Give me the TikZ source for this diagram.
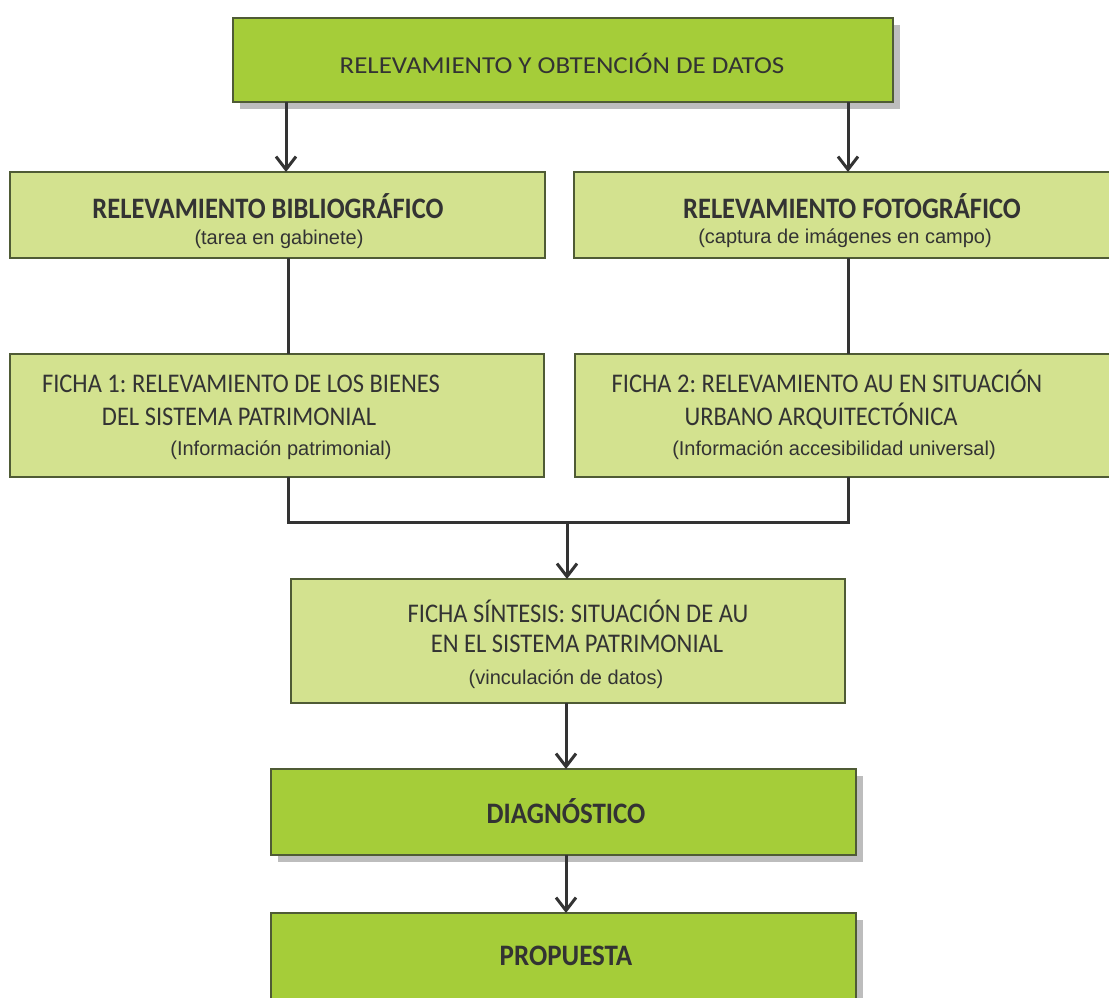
\documentclass[tikz,border=0pt]{standalone}
\usepackage{fontspec}
\setmainfont{Carlito}
\newfontfamily\arialf{Liberation Sans}
\usetikzlibrary{arrows.meta}
\frenchspacing
\definecolor{dkgreen}{HTML}{A5CD39}
\definecolor{ltgreen}{HTML}{D3E28F}
\definecolor{edgec}{HTML}{4F5B35}
\definecolor{linec}{HTML}{333333}
\definecolor{shadowc}{HTML}{BDBDBD}
\newcommand{\vs}[2]{\scalebox{1}[#1]{#2}}
\tikzset{
  boxdk/.style={draw=edgec, line width=1.3pt, fill=dkgreen},
  boxlt/.style={draw=edgec, line width=1.3pt, fill=ltgreen},
  shad/.style={fill=shadowc, draw=none},
  conn/.style={draw=linec, line width=3pt},
  arr/.style={conn, -{Straight Barb[length=13pt,width=20pt,line width=3pt]}},
  toptxt/.style={font=\fontsize{27}{31}\selectfont, text=black!80, inner sep=0pt, anchor=base},
  maintxt/.style={font=\fontsize{24.5}{29}\selectfont, text=black!80, inner sep=0pt, anchor=base},
  boldtxt/.style={font=\fontsize{26.5}{31}\selectfont\bfseries, text=black!80, inner sep=0pt, anchor=base},
  bigbold/.style={font=\fontsize{27}{31}\selectfont\bfseries, text=black!80, inner sep=0pt, anchor=base},
  subtxt/.style={font=\arialf\fontsize{20}{24}\selectfont, text=black!80, inner sep=0pt, anchor=base}
}
\begin{document}
\begin{tikzpicture}[x=1pt,y=-1pt]
\useasboundingbox (0,0) rectangle (1109,997);
% shadows
\fill[shad] (240,25) rectangle (900,109);
\fill[shad] (278,776) rectangle (863,862);
\fill[shad] (278,920) rectangle (863,1004);
% boxes
\draw[boxdk] (233,18) rectangle (893,102);
\draw[boxlt] (10,172) rectangle (545,258);
\draw[boxlt] (574,172) rectangle (1115,258);
\draw[boxlt] (10,354) rectangle (544,477);
\draw[boxlt] (575,354) rectangle (1115,477);
\draw[boxlt] (291,579) rectangle (845,703);
\draw[boxdk] (271,769) rectangle (856,855);
\draw[boxdk] (271,913) rectangle (856,1005);
% coordinates for connectors
\coordinate (tA) at (286,102);
\coordinate (tB) at (848,102);
\coordinate (bibT) at (286,172);
\coordinate (fotT) at (848,172);
\coordinate (bibB) at (288,258);
\coordinate (fotB) at (848,258);
\coordinate (f1T) at (288,354);
\coordinate (f2T) at (848,354);
\coordinate (f1B) at (288,477);
\coordinate (f2B) at (848,477);
\coordinate (jL) at (288,522);
\coordinate (jR) at (848,522);
\coordinate (jM) at (567,522);
\coordinate (synT) at (567,579);
\coordinate (synB) at (566,703);
\coordinate (diaT) at (566,769);
\coordinate (diaB) at (566,855);
\coordinate (proT) at (566,913);
% connectors
\draw[arr] (tA) -- (bibT);
\draw[arr] (tB) -- (fotT);
\draw[conn] (bibB) -- (f1T);
\draw[conn] (fotB) -- (f2T);
\draw[conn, line join=miter] (f1B) -- (jL) -- (jR) -- (f2B);
\draw[arr] (jM) -- (synT);
\draw[arr] (synB) -- (diaT);
\draw[arr] (diaB) -- (proT);
% texts
\node[toptxt] (t0) at (562,73) {\vs{0.9}{RELEVAMIENTO Y OBTENCIÓN DE DATOS}};
\node[boldtxt] (t1) at (268,218) {\vs{1.12}{RELEVAMIENTO BIBLIOGRÁFICO}};
\node[subtxt] (t1s) at (279,244) {(tarea en gabinete)};
\node[boldtxt] (t2) at (852,218) {\vs{1.12}{RELEVAMIENTO FOTOGRÁFICO}};
\node[subtxt] (t2s) at (845,243) {(captura de imágenes en campo)};
\node[maintxt] (f1a) at (241,392) {\vs{1.1}{FICHA 1: RELEVAMIENTO DE LOS BIENES}};
\node[maintxt] (f1b) at (239,425) {\vs{1.1}{DEL SISTEMA PATRIMONIAL}};
\node[subtxt] (f1c) at (281,455) {(Información patrimonial)};
\node[maintxt] (f2a) at (827,392) {\vs{1.1}{FICHA 2: RELEVAMIENTO AU EN SITUACIÓN}};
\node[maintxt] (f2b) at (821,425) {\vs{1.1}{URBANO ARQUITECTÓNICA}};
\node[subtxt] (f2c) at (834,455) {(Información accesibilidad universal)};
\node[maintxt] (s1) at (578,622) {\vs{1.1}{FICHA SÍNTESIS: SITUACIÓN DE AU}};
\node[maintxt] (s2) at (577,652) {\vs{1.1}{EN EL SISTEMA PATRIMONIAL}};
\node[subtxt] (s3) at (566,684) {(vinculación de datos)};
\node[bigbold] (d1) at (566,823) {\vs{1.1}{DIAGNÓSTICO}};
\node[bigbold] (p1) at (566,965) {\vs{1.1}{PROPUESTA}};
\end{tikzpicture}
\end{document}
